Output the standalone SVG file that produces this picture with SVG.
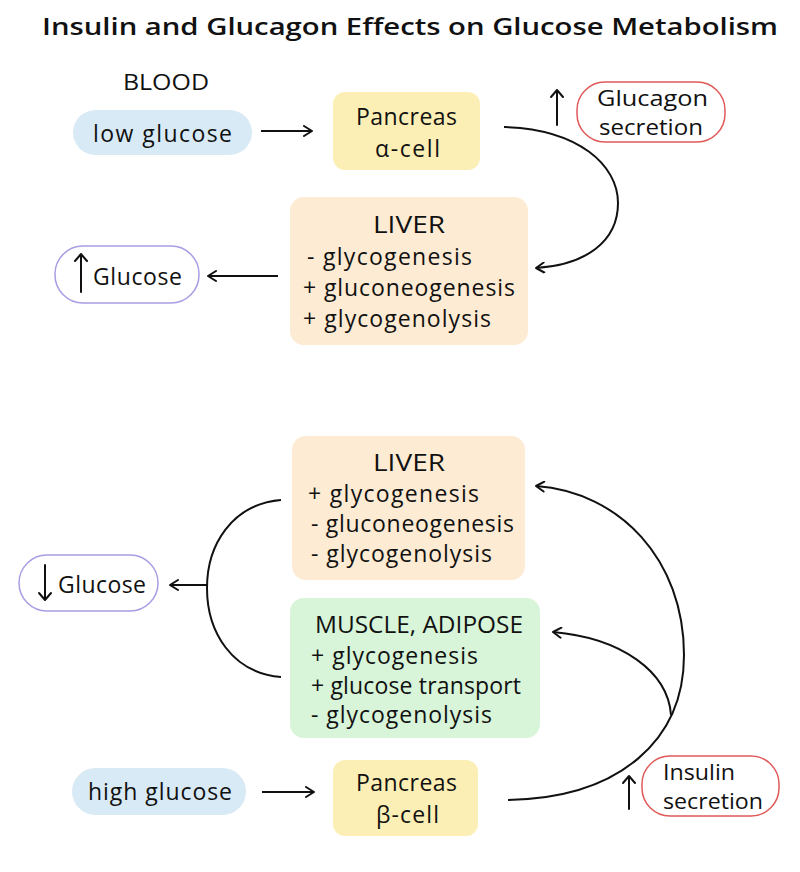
<svg xmlns="http://www.w3.org/2000/svg" width="800" height="872" viewBox="0 0 800 872">
<style>
text{font-family:"Open Sans","Noto Sans","DejaVu Sans",sans-serif;fill:#111;}
.t{font-size:23px;}
.s{font-size:21px;}
.c{text-anchor:middle;}
.ln{fill:none;stroke:#111;stroke-width:2;}
.arr{fill:none;stroke:#111;stroke-width:2;marker-end:url(#ah);}
</style>
<defs>
<marker id="ah" viewBox="0 0 12 12" refX="10" refY="6" markerWidth="12" markerHeight="12" markerUnits="userSpaceOnUse" orient="auto">
<path d="M2,1 L10,6 L2,11" fill="none" stroke="#111" stroke-width="2" stroke-linecap="round" stroke-linejoin="round"/>
</marker>
</defs>
<rect width="800" height="872" fill="#fff"/>
<text x="42" y="35" textLength="736" lengthAdjust="spacingAndGlyphs" style="font-size:24px;font-weight:600">Insulin and Glucagon Effects on Glucose Metabolism</text>
<g id="blood-label"><text x="123" y="90" class="t" textLength="86" lengthAdjust="spacingAndGlyphs" style="font-size:21px">BLOOD</text></g>
<g id="low-glucose"><rect x="73" y="110" width="179" height="45" rx="22.5" fill="#d8eaf5"/><text x="93" y="142" class="t" textLength="139">low glucose</text></g>
<g id="pancreas-alpha"><rect x="333" y="92" width="147" height="78" rx="12" fill="#fcefb5"/><text x="356" y="125" class="t" textLength="101">Pancreas</text><text x="375" y="157" class="t" textLength="65">α-cell</text></g>
<g id="glucagon-secretion"><rect x="577" y="82" width="148" height="60" rx="28" fill="#fff" stroke="#e05a5a" stroke-width="1.5"/><text x="597" y="106" class="s" textLength="111" lengthAdjust="spacingAndGlyphs">Glucagon</text><text x="599" y="135" class="s" textLength="104" lengthAdjust="spacingAndGlyphs">secretion</text></g>
<g id="liver-top"><rect x="290" y="197" width="238" height="148" rx="14" fill="#fdebd3"/><text x="373" y="233" class="t" textLength="72" lengthAdjust="spacingAndGlyphs">LIVER</text><text x="307" y="265" class="t" textLength="165">- glycogenesis</text><text x="303" y="296" class="t" textLength="212">+ gluconeogenesis</text><text x="303" y="327" class="t" textLength="188">+ glycogenolysis</text></g>
<g id="glucose-up"><rect x="55" y="246" width="144" height="57" rx="28" fill="#fff" stroke="#a99de3" stroke-width="1.5"/><path d="M81,292 V255 M75,261 L81,254 L87,261" class="ln" stroke-linecap="round" stroke-linejoin="round"/><text x="93" y="285" class="t" textLength="89">Glucose</text></g>
<g id="liver-bottom"><rect x="292" y="436" width="233" height="144" rx="14" fill="#fdebd3"/><text x="373" y="471" class="t" textLength="72" lengthAdjust="spacingAndGlyphs">LIVER</text><text x="308" y="502" class="t" textLength="171">+ glycogenesis</text><text x="311" y="532" class="t" textLength="203">- gluconeogenesis</text><text x="311" y="562" class="t" textLength="181">- glycogenolysis</text></g>
<g id="muscle-adipose"><rect x="290" y="598" width="250" height="140" rx="14" fill="#d8f5d9"/><text x="315" y="633" class="t" textLength="208" lengthAdjust="spacingAndGlyphs">MUSCLE, ADIPOSE</text><text x="311" y="664" class="t" textLength="167">+ glycogenesis</text><text x="311" y="694" class="t" textLength="210">+ glucose transport</text><text x="311" y="723" class="t" textLength="181">- glycogenolysis</text></g>
<g id="glucose-down"><rect x="19" y="555" width="139" height="56" rx="28" fill="#fff" stroke="#a99de3" stroke-width="1.5"/><path d="M45,565 V599 M39,593 L45,600 L51,593" class="ln" stroke-linecap="round" stroke-linejoin="round"/><text x="58" y="593" class="t" textLength="88">Glucose</text></g>
<g id="high-glucose"><rect x="72" y="768" width="174" height="47" rx="23.5" fill="#d8eaf5"/><text x="88" y="800" class="t" textLength="144">high glucose</text></g>
<g id="pancreas-beta"><rect x="333" y="760" width="145" height="76" rx="12" fill="#fcefb5"/><text x="356" y="791" class="t" textLength="101">Pancreas</text><text x="376" y="823" class="t" textLength="63">β-cell</text></g>
<g id="insulin-secretion"><rect x="642" y="756" width="137" height="60" rx="28" fill="#fff" stroke="#e05a5a" stroke-width="1.5"/><text x="663" y="780" class="s" textLength="72" lengthAdjust="spacingAndGlyphs">Insulin</text><text x="663" y="809" class="s" textLength="100" lengthAdjust="spacingAndGlyphs">secretion</text></g>
<g id="connectors">
<path d="M261,131 H312" class="arr"/>
<path d="M557,125 V91 M551,97 L557,90 L563,97" class="ln" stroke-linecap="round" stroke-linejoin="round"/>
<path d="M504,127 C578,129 618,165 618,203 C618,242 585,265 536,268" class="arr"/>
<path d="M278,276 H208" class="arr"/>
<path d="M281,500 C232,504 207,545 207,588 C207,632 232,673 281,677" class="ln"/>
<path d="M207,585 H170" class="arr"/>
<path d="M262,792 H314" class="arr"/>
<path d="M629,809 V777 M623,783 L629,776 L635,783" class="ln" stroke-linecap="round" stroke-linejoin="round"/>
<path d="M508,800 C620,798 684,740 684,655 C684,560 620,492 536,486" class="arr"/>
<path d="M671,715 C668,672 622,638 553,632" class="arr"/>
</g>
</svg>
